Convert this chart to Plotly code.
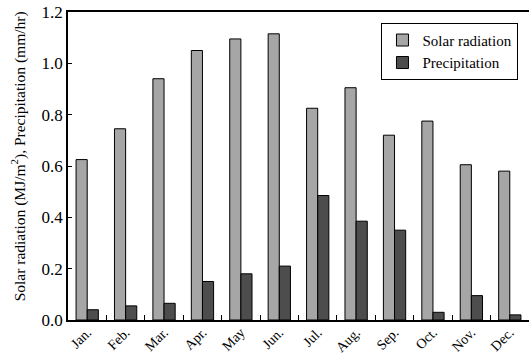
import plotly.graph_objects as go

months = ["Jan.", "Feb.", "Mar.", "Apr.", "May", "Jun.", "Jul.", "Aug.", "Sep.", "Oct.", "Nov.", "Dec."]
solar = [0.625, 0.745, 0.94, 1.05, 1.095, 1.115, 0.825, 0.905, 0.72, 0.775, 0.605, 0.58]
precip = [0.04, 0.055, 0.065, 0.15, 0.18, 0.21, 0.485, 0.385, 0.35, 0.03, 0.095, 0.02]
y_ticks = [0.0, 0.2, 0.4, 0.6, 0.8, 1.0, 1.2]

font = "Liberation Serif"

fig = go.Figure()
fig.add_trace(go.Bar(x=months, y=solar, name="Solar radiation",
                     marker=dict(color="#a6a6a6", line=dict(color="black", width=1))))
fig.add_trace(go.Bar(x=months, y=precip, name="Precipitation",
                     marker=dict(color="#4d4d4d", line=dict(color="black", width=1))))

fig.update_layout(
    width=529, height=354,
    margin=dict(l=68, r=0, t=12, b=34),
    paper_bgcolor="white", plot_bgcolor="white",
    barmode="group", bargap=0.42, bargroupgap=0,
    font=dict(family=font, size=16, color="black"),
    showlegend=True,
    legend=dict(x=0.68, y=0.965, xanchor="left", yanchor="top",
                bordercolor="black", borderwidth=1, bgcolor="white",
                font=dict(family=font, size=15), tracegroupgap=0,
                itemwidth=30),
    xaxis=dict(
        showline=True, linecolor="black", linewidth=1.5, mirror=True,
        ticks="inside", tickson="boundaries", ticklen=5, tickcolor="black",
        tickangle=-45, tickfont=dict(family=font, size=14),
        ticklabelstandoff=-3,
        automargin=False,
    ),
    yaxis=dict(
        range=[0, 1.2], tickvals=y_ticks, tickformat=".1f",
        showline=True, linecolor="black", linewidth=1.5, mirror=True,
        ticks="inside", ticklen=4, tickcolor="black",
        showgrid=False, zeroline=False,
        tickfont=dict(family=font, size=17),
        automargin=False,
    ),
    annotations=[dict(
        text="Solar radiation (MJ/m<sup>2</sup>), Precipitation (mm/hr)",
        xref="paper", yref="paper", x=-0.108, y=0.532,
        xanchor="center", yanchor="middle", textangle=-90,
        showarrow=False, font=dict(family=font, size=15.5),
    )],
)

fig.write_html("out.html", config={"displayModeBar": False},
               post_script="document.body.style.margin='0';")
